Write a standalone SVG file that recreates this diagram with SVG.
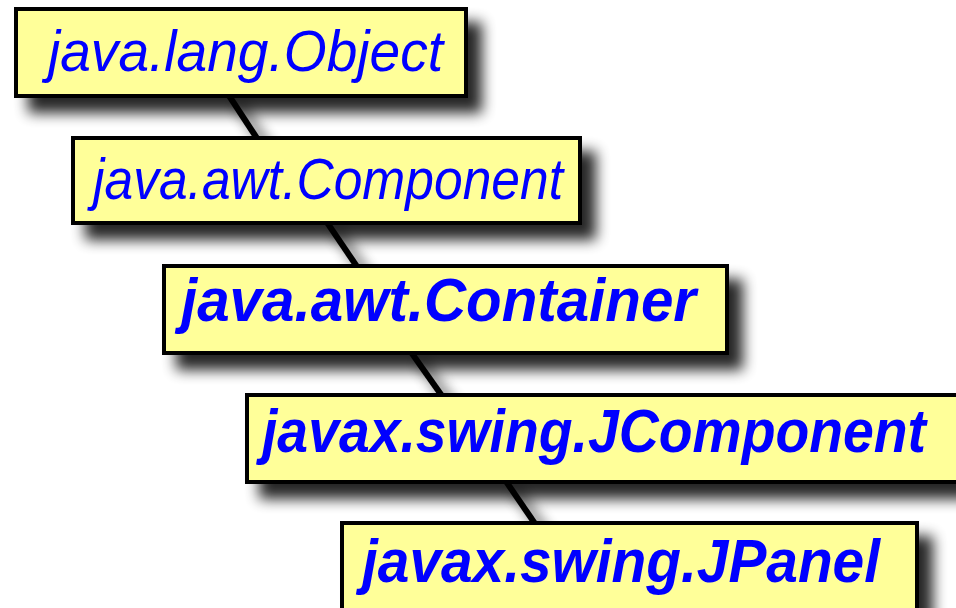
<svg xmlns="http://www.w3.org/2000/svg" width="956" height="608" viewBox="0 0 956 608">
<defs>
<filter id="sh" x="-20%" y="-40%" width="150%" height="220%">
<feGaussianBlur in="SourceAlpha" stdDeviation="7" result="b"/>
<feOffset in="b" dx="14" dy="15" result="o"/>
<feComponentTransfer in="o" result="s"><feFuncA type="linear" slope="0.85"/></feComponentTransfer>
<feMerge><feMergeNode in="s"/><feMergeNode in="SourceGraphic"/></feMerge>
</filter>
</defs>
<style>
.box{fill:#FFFF99;stroke:#000;stroke-width:4}
.lbl{font-family:"Liberation Sans",Arial,sans-serif;font-style:italic;fill:#0000FF}
.n{font-size:57px}
.b{font-size:62px;font-weight:bold}
.conn line{stroke:#000;stroke-width:6}
</style>
<rect width="956" height="608" fill="#fff"/>
<g id="connectors" class="conn" filter="url(#sh)">
<line x1="224" y1="88" x2="262" y2="146"/>
<line x1="322" y1="215" x2="362" y2="274"/>
<line x1="406" y1="345" x2="447" y2="403"/>
<line x1="501" y1="474" x2="540" y2="531"/>
</g>
<g id="object" filter="url(#sh)">
<rect class="box" x="16" y="9" width="450" height="87"/>
<text class="lbl n" x="48" y="71" textLength="395" lengthAdjust="spacingAndGlyphs">java.lang.Object</text>
</g>
<g id="component" filter="url(#sh)">
<rect class="box" x="73" y="138" width="507" height="85"/>
<text class="lbl n" x="93" y="199" textLength="470" lengthAdjust="spacingAndGlyphs">java.awt.Component</text>
</g>
<g id="container" filter="url(#sh)">
<rect class="box" x="164" y="266" width="563" height="87"/>
<text class="lbl b" x="181" y="321" textLength="515" lengthAdjust="spacingAndGlyphs">java.awt.Container</text>
</g>
<g id="jcomponent" filter="url(#sh)">
<rect class="box" x="247" y="395" width="712" height="87"/>
<text class="lbl b" x="262" y="452" textLength="664" lengthAdjust="spacingAndGlyphs">javax.swing.JComponent</text>
</g>
<g id="jpanel" filter="url(#sh)">
<rect class="box" x="342" y="523" width="575" height="100"/>
<text class="lbl b" x="362" y="582" textLength="518" lengthAdjust="spacingAndGlyphs">javax.swing.JPanel</text>
</g>
</svg>
